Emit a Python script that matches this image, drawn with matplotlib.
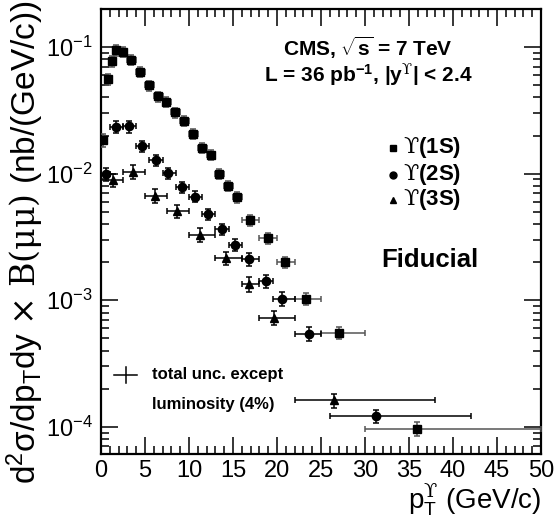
import matplotlib
matplotlib.use('Agg')
import matplotlib.pyplot as plt
import numpy as np
from matplotlib.ticker import FixedLocator, LogLocator, NullFormatter, MultipleLocator

plt.rcParams['font.family'] = 'Liberation Sans'
plt.rcParams['mathtext.fontset'] = 'custom'
plt.rcParams['mathtext.rm'] = 'DejaVu Serif'
plt.rcParams['mathtext.sf'] = 'Liberation Sans'
plt.rcParams['mathtext.it'] = 'Liberation Sans:italic'
plt.rcParams['mathtext.bf'] = 'Liberation Sans:bold'

# Upsilon(1S)
pt_1s = [0.25, 0.77, 1.22, 1.75, 2.47, 3.45, 4.48, 5.45, 6.45, 7.44, 8.42, 9.45, 10.45, 11.45,
         12.45, 13.45, 14.45, 15.45, 16.9, 18.95, 20.95, 23.25, 27.05, 35.95]
lo_1s = [0, 0.5, 1, 1.5, 2, 3, 4, 5, 6, 7, 8, 9, 10, 11, 12, 13, 14, 15, 16, 18, 20, 22, 25, 30]
hi_1s = [0.5, 1, 1.5, 2, 3, 4, 5, 6, 7, 8, 9, 10, 11, 12, 13, 14, 15, 16, 18, 20, 22, 25, 30, 50]
xs_1s = [0.0185, 0.0559, 0.077, 0.0947, 0.092, 0.079, 0.0635, 0.0499, 0.0408, 0.0368, 0.0305,
         0.026, 0.0207, 0.016, 0.0141, 0.0100, 0.0080, 0.00655, 0.00431, 0.00311, 0.00199,
         0.00103, 0.000553, 0.0000966]
rel_1s = [0.12, 0.10, 0.10, 0.10, 0.09, 0.09, 0.09, 0.09, 0.09, 0.09, 0.09, 0.09, 0.09, 0.09,
          0.09, 0.09, 0.09, 0.10, 0.10, 0.10, 0.10, 0.11, 0.11, 0.12]

# Upsilon(2S)
pt_2s = [0.6, 1.75, 3.2, 4.7, 6.2, 7.6, 9.2, 10.7, 12.2, 13.7, 15.2, 16.85, 18.7, 20.6, 23.65, 31.3]
lo_2s = [0, 1, 2.5, 4, 5.5, 7, 8.5, 10, 11.5, 13, 14.5, 16, 18, 19.5, 22, 26]
hi_2s = [1, 2.5, 4, 5.5, 7, 8.5, 10, 11.5, 13, 14.5, 16, 18, 19.5, 22, 25, 42]
xs_2s = [0.0099, 0.0235, 0.0237, 0.01656, 0.0128, 0.01007, 0.00788, 0.00659, 0.00481, 0.00366,
         0.00274, 0.00211, 0.00141, 0.00103, 0.000546, 0.000122]
rel_2s = [0.11, 0.11, 0.11, 0.10, 0.10, 0.10, 0.10, 0.10, 0.10, 0.10, 0.11, 0.11, 0.12, 0.12,
          0.12, 0.12]

# Upsilon(3S)
pt_3s = [1.4, 3.6, 6.1, 8.65, 11.3, 14.25, 16.85, 19.7, 26.45]
lo_3s = [0, 2.5, 5, 7.5, 10, 13, 16, 18, 22]
hi_3s = [2.5, 5, 7.5, 10, 13, 16, 18, 22, 38]
xs_3s = [0.0089, 0.0104, 0.0067, 0.00508, 0.0033, 0.00215, 0.00134, 0.00073, 0.000162]
rel_3s = [0.12, 0.12, 0.12, 0.12, 0.12, 0.12, 0.13, 0.13, 0.13]

y_ticks = [1e-4, 1e-3, 1e-2, 1e-1]
y_ticklabels = [r'10$^{\mathsf{-4}}$', r'10$^{\mathsf{-3}}$', r'10$^{\mathsf{-2}}$', r'10$^{\mathsf{-1}}$']


def draw_series(ax, pt, lo, hi, xs, rel, marker, ms, color):
    pt = np.array(pt)
    xs = np.array(xs)
    xerr = [pt - np.array(lo), np.array(hi) - pt]
    yerr = xs * np.array(rel)
    ax.errorbar(pt, xs, xerr=xerr, yerr=yerr, fmt=marker, ms=ms, color='black',
                ecolor=color, elinewidth=1.1, capsize=2, capthick=1.1, zorder=3)


fig = plt.figure(figsize=(5.56, 5.25), dpi=100)
ax = fig.add_axes([101 / 556, 1 - 454 / 525, 440 / 556, 445 / 525])

draw_series(ax, pt_1s, lo_1s, hi_1s, xs_1s, rel_1s, 's', 5.2, '#555555')
draw_series(ax, pt_2s, lo_2s, hi_2s, xs_2s, rel_2s, 'o', 6, 'black')
draw_series(ax, pt_3s, lo_3s, hi_3s, xs_3s, rel_3s, '^', 6, 'black')

ax.set_yscale('log')
ax.set_xlim(0, 50)
ax.set_ylim(6.1e-5, 0.2)

ax.xaxis.set_major_locator(MultipleLocator(5))
ax.xaxis.set_minor_locator(MultipleLocator(1))
ax.yaxis.set_major_locator(FixedLocator(y_ticks))
ax.set_yticklabels(y_ticklabels)
ax.yaxis.set_minor_locator(LogLocator(base=10, subs=np.arange(2, 10)))
ax.yaxis.set_minor_formatter(NullFormatter())

ax.tick_params(which='both', direction='in', top=True, right=True, width=1.1)
ax.tick_params(which='major', length=12, labelsize=17)
ax.tick_params(axis='x', which='major', pad=4)
ax.tick_params(axis='y', which='major', pad=6)
ax.tick_params(which='minor', length=6)
for s in ax.spines.values():
    s.set_linewidth(1.6)

ax.set_xlabel(r'$\mathsf{p}_{\mathsf{T}}^{\mathrm{ϒ}}$ (GeV/c)', fontsize=20, loc='right')
ax.xaxis.set_label_coords(1.0, -0.062)
ax.set_ylabel(r'd$^{\mathsf{2}}$σ/dp$_{\mathsf{T}}$dy $\mathrm{\times}$ $\mathrm{B(\mu\mu)}$ (nb/(GeV/c))',
              fontsize=24, loc='top')
ax.yaxis.set_label_coords(-0.125, 1.02)

# Annotations
fig.text(368 / 556, 1 - 48 / 525, r'CMS, $\mathbf{\sqrt{s}}$ = 7 TeV', ha='center', va='center',
         fontsize=15, fontweight='bold')
fig.text(368 / 556, 1 - 75 / 525, r'L = 36 pb$^{\mathbf{-1}}$, |y$^{\mathrm{ϒ}}$| < 2.4', ha='center',
         va='center', fontsize=15, fontweight='bold')
fig.text(430 / 556, 1 - 260 / 525, 'Fiducial', ha='center', va='center', fontsize=18.5, fontweight='bold')

# Legend
leg_labels = [r'$\mathrm{ϒ}$(1S)', r'$\mathrm{ϒ}$(2S)', r'$\mathrm{ϒ}$(3S)']
leg_markers = ['s', 'o', '^']
leg_y = [148, 175, 200]
for lab, mk, yy in zip(leg_labels, leg_markers, leg_y):
    fig.lines.append(plt.Line2D([393 / 556], [1 - yy / 525], marker=mk, ms=5, color='black',
                                linestyle='none', transform=fig.transFigure))
    fig.text(403 / 556, 1 - yy / 525, lab, ha='left', va='center', fontsize=16, fontweight='bold')

fig.lines.append(plt.Line2D([114 / 556, 137 / 556], [1 - 375 / 525, 1 - 375 / 525], color='black',
                            lw=1.1, transform=fig.transFigure))
fig.lines.append(plt.Line2D([125.5 / 556, 125.5 / 556], [1 - 367 / 525, 1 - 383 / 525], color='black',
                            lw=1.1, transform=fig.transFigure))
fig.text(152 / 556, 1 - 375 / 525, 'total unc. except', ha='left', va='center', fontsize=12,
         fontweight='bold')
fig.text(152 / 556, 1 - 405 / 525, 'luminosity (4%)', ha='left', va='center', fontsize=12,
         fontweight='bold')

fig.savefig('out.png', dpi=100)
plt.close(fig)
